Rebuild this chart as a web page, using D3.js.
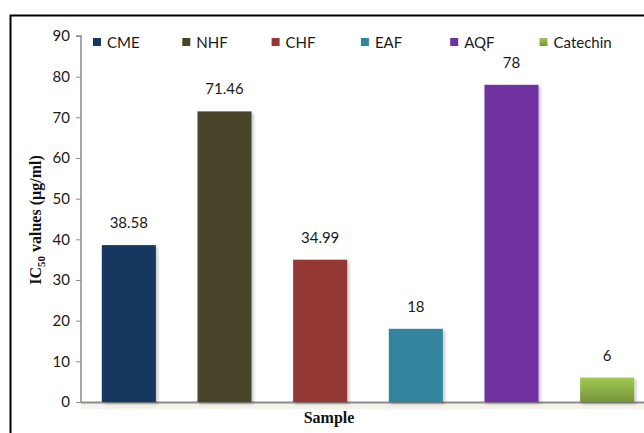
<!DOCTYPE html>
<html>
<head>
<meta charset="utf-8">
<script src="https://cdn.jsdelivr.net/npm/d3@7"></script>
<style>
  html, body { margin: 0; padding: 0; background: #fff; }
  svg { display: block; }
</style>
</head>
<body>
<svg id="chart" width="644" height="433"></svg>
<script>
// IC50 values per sample
const samples = ["CME", "NHF", "CHF", "EAF", "AQF", "Catechin"];
const ic50 = [38.58, 71.46, 34.99, 18, 78, 6];
const valueLabels = ["38.58", "71.46", "34.99", "18", "78", "6"];
const colors = ["#17375e", "#4a452a", "#953735", "#31859c", "#7030a0", "#8cb545"];
const yTicks = [0, 10, 20, 30, 40, 50, 60, 70, 80, 90];

const svg = d3.select("#chart");
const W = 644, H = 433;
const plot = { left: 81, right: 655, top: 36, bottom: 402 };

// outer frame
svg.append("path")
  .attr("d", `M10.5,${H} V15.5 H${W}`)
  .attr("fill", "none").attr("stroke", "#000").attr("stroke-width", 2);

const defs = svg.append("defs");
const shadow = defs.append("filter").attr("id", "shadow")
  .attr("x", "-20%").attr("y", "-20%").attr("width", "150%").attr("height", "150%");
shadow.append("feDropShadow").attr("dx", 2).attr("dy", 2).attr("stdDeviation", 1.5)
  .attr("flood-color", "#000").attr("flood-opacity", 0.22);

const green = defs.append("linearGradient").attr("id", "greenGrad")
  .attr("x1", 0).attr("y1", 0).attr("x2", 0).attr("y2", 1);
green.append("stop").attr("offset", "0%").attr("stop-color", "#9fca4e");
green.append("stop").attr("offset", "100%").attr("stop-color", "#76943a");

const x = d3.scaleBand().domain(samples).range([plot.left, plot.right])
  .paddingInner(0.435).paddingOuter(0.2175);
const y = d3.scaleLinear().domain([0, 90]).range([plot.bottom, plot.top]);

// x axis baseline with soft shadow
const base = svg.append("g");
base.append("rect").attr("x", plot.left).attr("y", plot.bottom + 1)
  .attr("width", W - plot.left).attr("height", 6)
  .attr("fill", "#f1efe6").attr("opacity", 0.8);
base.append("line").attr("x1", plot.left).attr("x2", W)
  .attr("y1", plot.bottom + 0.5).attr("y2", plot.bottom + 0.5)
  .attr("stroke", "#8c8c8c").attr("stroke-width", 2);

// bars
svg.append("g").selectAll("rect").data(samples).join("rect")
  .attr("x", d => x(d))
  .attr("y", (d, i) => y(ic50[i]))
  .attr("width", x.bandwidth())
  .attr("height", (d, i) => y(0) - y(ic50[i]))
  .attr("fill", (d, i) => d === "Catechin" ? "url(#greenGrad)" : colors[i])
  .attr("filter", "url(#shadow)");

// value labels
svg.append("g").selectAll("text").data(samples).join("text")
  .attr("x", d => x(d) + x.bandwidth() / 2)
  .attr("y", (d, i) => y(ic50[i]) - 17)
  .attr("text-anchor", "middle")
  .attr("font-family", "Lato, 'Open Sans', sans-serif")
  .attr("font-size", 15)
  .attr("fill", "#1a1a1a")
  .text((d, i) => valueLabels[i]);

// y axis
const yAxis = svg.append("g")
  .attr("transform", `translate(${plot.left},0)`)
  .call(d3.axisLeft(y).tickValues(yTicks).tickSize(5).tickPadding(6));
yAxis.select(".domain").attr("stroke", "#8c8c8c").attr("stroke-width", 1.5)
  .attr("d", `M-5,${plot.top}H0V${plot.bottom}`);
yAxis.selectAll(".tick line").attr("stroke", "#8c8c8c");
yAxis.selectAll(".tick text")
  .attr("font-family", "Lato, 'Open Sans', sans-serif")
  .attr("font-size", 15).attr("fill", "#1a1a1a");

// y axis title
const yt = svg.append("text")
  .attr("transform", "translate(41,220) rotate(-90)")
  .attr("text-anchor", "middle")
  .attr("font-family", "'Liberation Serif', 'Times New Roman', serif")
  .attr("font-weight", "bold").attr("font-size", 16).attr("fill", "#111");
yt.append("tspan").text("IC");
yt.append("tspan").attr("font-size", 11).attr("dy", 4).text("50");
yt.append("tspan").attr("dy", -4).text(" values (µg/ml)");

// x axis title
svg.append("text")
  .attr("x", 329).attr("y", 423)
  .attr("text-anchor", "middle")
  .attr("font-family", "'Liberation Serif', 'Times New Roman', serif")
  .attr("font-weight", "bold").attr("font-size", 16).attr("fill", "#111")
  .text("Sample");

// legend
const legend = svg.append("g").selectAll("g").data(samples).join("g")
  .attr("transform", (d, i) => `translate(${93 + i * 89.3},38)`);
legend.append("rect").attr("width", 8).attr("height", 8)
  .attr("fill", (d, i) => d === "Catechin" ? "url(#greenGrad)" : colors[i]);
legend.append("text").attr("x", 14).attr("y", 9.5)
  .attr("font-family", "Lato, 'Open Sans', sans-serif")
  .attr("font-size", 15).attr("fill", "#1a1a1a")
  .text(d => d);
</script>
</body>
</html>
